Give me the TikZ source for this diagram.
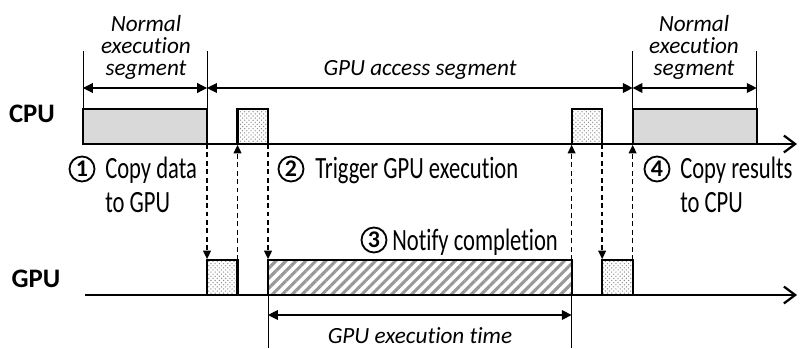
\documentclass[tikz,border=0pt]{standalone}
\usepackage{fontspec}
\setmainfont[Ligatures=NoCommon]{Carlito}
\newfontfamily\condfont[FakeStretch=0.73,Ligatures=NoCommon]{Carlito}
\usetikzlibrary{arrows.meta,patterns,patterns.meta}

\tikzset{
  timeaxis/.style={line width=1.6pt,-{Straight Barb[length=8pt,width=12pt]}},
  slot/.style={draw,line width=1.5pt,anchor=south west,inner sep=0pt,outer sep=0pt,minimum height=0.875cm},
  cpubox/.style={slot,fill=black!15,minimum width=3.1cm},
  copybox/.style={slot,pattern=crosshatch dots,pattern color=black!45,minimum width=0.7625cm},
  execbox/.style={slot,pattern={Lines[angle=45,distance=5pt,line width=2.2pt]},pattern color=black!40,minimum width=7.5875cm},
  signal/.style={line width=1pt,dash pattern=on 3.5pt off 2.5pt,-{Triangle[length=6pt,width=5.5pt]},shorten >=0.6pt},
  tick/.style={line width=0.6pt},
  dimarrow/.style={line width=0.8pt,{Triangle[length=7pt,width=7pt]}-{Triangle[length=7pt,width=7pt]}},
  unitlabel/.style={font=\bfseries\fontsize{19}{19}\selectfont,inner sep=0pt},
  seglabel/.style={font=\itshape\fontsize{16.5}{15.6}\selectfont,align=center,inner sep=0pt},
  stepmark/.style={circle,draw,line width=1.3pt,minimum size=0.625cm,inner sep=0pt,font=\bfseries\fontsize{17}{17}\selectfont},
  steptext/.style={font=\condfont\fontsize{22}{24.1}\selectfont,align=left,anchor=base west,inner sep=0pt}
}

\begin{document}
\begin{tikzpicture}[x=0.025cm,y=-0.025cm]
\useasboundingbox (0,0) rectangle (800,348);
\coordinate (c0) at (83,144);
\coordinate (c1) at (797,144);
\coordinate (g0) at (85,295);
\coordinate (g1) at (797,295);
\coordinate (dimtop) at (0,88);
\coordinate (dimbot) at (0,315);

\draw[timeaxis] (c0) -- (c1);
\draw[timeaxis] (g0) -- (g1);
\node[unitlabel,anchor=base] (cpu) at (32,122) {CPU};
\node[unitlabel,anchor=base] (gpu) at (36,287) {GPU};

\node[cpubox] (cn1) at (c0) {};
\node[copybox] (gc1) at (cn1.south east |- g0) {};
\node[copybox] (cc1) at (gc1.south east |- c0) {};
\node[execbox] (ge) at (cc1.south east |- g0) {};
\node[copybox] (cc2) at (ge.south east |- c0) {};
\node[copybox] (gc2) at (cc2.south east |- g0) {};
\node[cpubox] (cn2) at (gc2.south east |- c0) {};

\draw[signal] (cn1.south east) -- (gc1.north west);
\draw[signal] (gc1.north east) -- (cc1.south west);
\draw[signal] (cc1.south east) -- (ge.north west);
\draw[signal] (ge.north east) -- (cc2.south west);
\draw[signal] (cc2.south east) -- (gc2.north west);
\draw[signal] (gc2.north east) -- (cn2.south west);

\draw[tick] (cn1.north west) -- ++(0,-58);
\draw[tick] (cn1.north east) -- ++(0,-58);
\draw[tick] (cn2.north west) -- ++(0,-58);
\draw[tick] (cn2.north east) -- ++(0,-58);
\draw[dimarrow] (cn1.west |- dimtop) -- (cn1.east |- dimtop);
\draw[dimarrow] (cn1.east |- dimtop) -- (cn2.west |- dimtop);
\draw[dimarrow] (cn2.west |- dimtop) -- (cn2.east |- dimtop);
\draw[tick] (ge.south west) -- ++(0,53);
\draw[tick] (ge.south east) -- ++(0,53);
\draw[dimarrow] (ge.west |- dimbot) -- (ge.east |- dimbot);

\node[seglabel] (ns1) at (146,47) {Normal\\execution\\segment};
\node[seglabel] (ns2) at (694,47) {Normal\\execution\\segment};
\node[seglabel,anchor=base] (gas) at (420,76) {GPU access segment};
\node[seglabel,anchor=base] (get) at (420,343) {GPU execution time};

\node[stepmark] (m1) at (82,169) {1};
\node[steptext] (t1) at (105,212) {Copy data\\to GPU};
\node[stepmark] (m2) at (291,169) {2};
\node[steptext] (t2) at (315,178) {Trigger GPU execution};
\node[stepmark] (m3) at (374,240) {3};
\node[steptext] (t3) at (392,250) {Notify completion};
\node[stepmark] (m4) at (657,169) {4};
\node[steptext] (t4) at (680,212) {Copy results\\to CPU};
\end{tikzpicture}
\end{document}
